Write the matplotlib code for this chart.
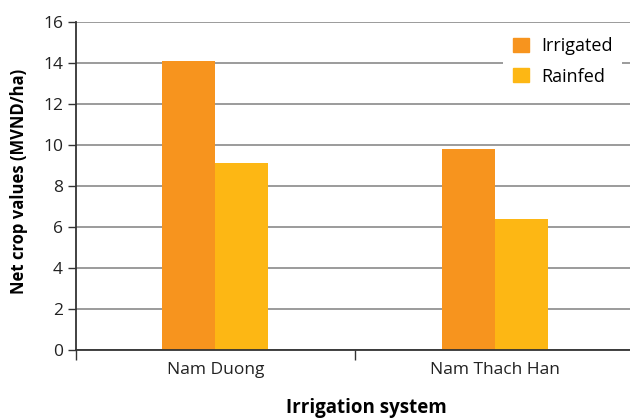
import numpy as np
import matplotlib.pyplot as plt
from matplotlib.patches import Patch

# data
systems = ["Nam Duong", "Nam Thach Han"]
irrigated = [14.1, 9.8]
rainfed = [9.1, 6.4]
yticks = [0, 2, 4, 6, 8, 10, 12, 14, 16]

orange = "#F7941E"
yellow = "#FDB714"

plt.rcParams['font.family'] = ['Open Sans', 'DejaVu Sans']

fig = plt.figure(figsize=(6.3, 4.2), dpi=100)
ax = fig.add_axes([75.5 / 630, 1 - 350 / 420, (630 - 75.5) / 630, 328 / 420])

x = np.arange(len(systems))
w = 0.19
ax.bar(x - w / 2, irrigated, w, color=orange, zorder=3)
ax.bar(x + w / 2, rainfed, w, color=yellow, zorder=3)

ax.set_ylim(0, 16)
ax.set_xlim(-0.5, 1.5 - 4.5 / 279.5)
ax.set_yticks(yticks)
ax.set_yticklabels([str(t) for t in yticks], fontsize=12.5, color="#222222")
ax.set_xticks(x)
ax.set_xticklabels(systems, fontsize=12.5, color="#222222")
ax.set_xticks([-0.5, 0.5], minor=True)
ax.tick_params(axis="x", which="major", length=0, pad=9)
ax.tick_params(axis="x", which="minor", length=7, width=1, color="#333333")
ax.tick_params(axis="y", length=6, width=1, color="#333333", pad=3)

ax.grid(axis="y", color="#8a8a8a", linewidth=1.2, zorder=0)
for s in ["top", "right"]:
    ax.spines[s].set_visible(False)
for s in ["left", "bottom"]:
    ax.spines[s].set_color("#333333")
    ax.spines[s].set_linewidth(1.3)
    ax.spines[s].set_zorder(4)

ax.set_ylabel("Net crop values (MVND/ha)", fontsize=12, fontweight="bold")
ax.yaxis.set_label_coords(-0.085, 0.515)
fig.text(366 / 630, 1 - 408 / 420, "Irrigation system", fontsize=13.5, fontweight="bold",
         ha="center", va="center")

handles = [Patch(color=orange, label="Irrigated"), Patch(color=yellow, label="Rainfed")]
leg = ax.legend(handles=handles, loc="upper left", bbox_to_anchor=(503 / 630, 1 - 27 / 420),
                bbox_transform=fig.transFigure,
                frameon=True, facecolor="white", edgecolor="none", framealpha=1,
                fontsize=13, handlelength=0.9, handleheight=0.8, handletextpad=0.65,
                labelspacing=0.7, borderaxespad=0, borderpad=0.55, fancybox=False)
leg.set_zorder(5)

fig.savefig("out.png", dpi=100)
